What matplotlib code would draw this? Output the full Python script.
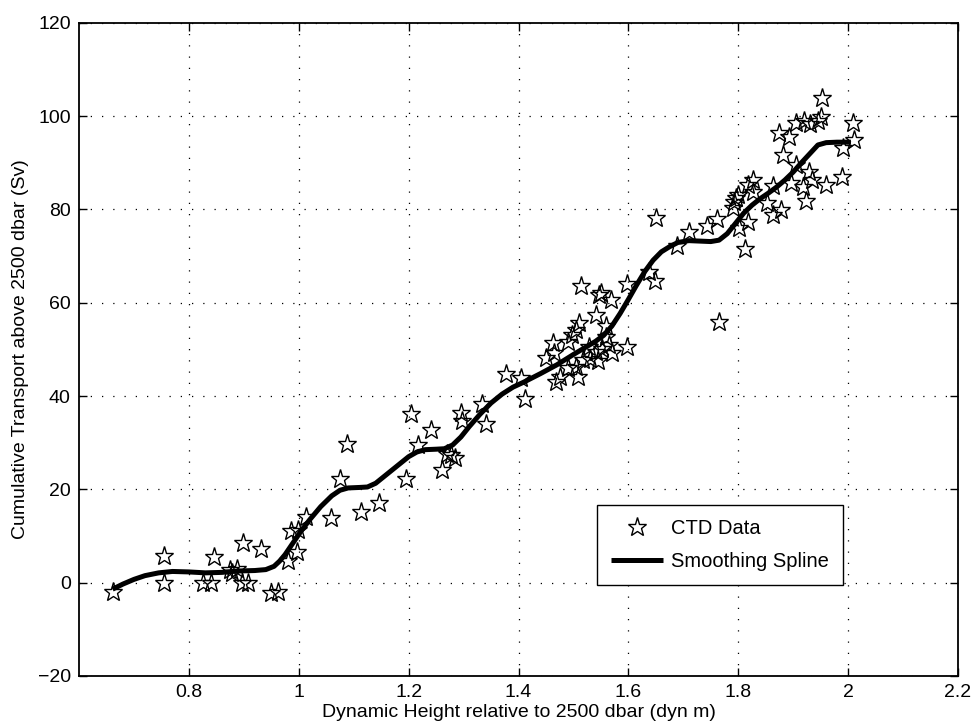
import matplotlib
matplotlib.use("Agg")
import matplotlib.pyplot as plt

plt.rcParams['font.family'] = ['Liberation Sans', 'DejaVu Sans']

# CTD data (dynamic height, cumulative transport)
ctd_x = [0.661, 0.754, 0.754, 0.825, 0.841, 0.846, 0.875, 0.887, 0.878, 0.898,
         0.896, 0.908, 0.932, 0.950, 0.962, 0.981, 0.996, 0.985, 0.998, 1.014,
         1.059, 1.075, 1.088, 1.114, 1.146, 1.196, 1.204, 1.217, 1.240, 1.261,
         1.269, 1.278, 1.284, 1.296, 1.298, 1.334, 1.340, 1.378, 1.405, 1.411,
         1.462, 1.490, 1.497, 1.450, 1.465, 1.505, 1.511, 1.514, 1.529, 1.541,
         1.552, 1.565, 1.571, 1.517, 1.530, 1.544, 1.490, 1.505, 1.475, 1.469,
         1.508, 1.541, 1.547, 1.568, 1.559, 1.559, 1.598, 1.550, 1.597, 1.637,
         1.649, 1.650, 1.688, 1.711, 1.744, 1.762, 1.765, 1.790, 1.793, 1.796,
         1.799, 1.802, 1.813, 1.817, 1.817, 1.826, 1.826, 1.853, 1.863, 1.863,
         1.875, 1.878, 1.881, 1.893, 1.896, 1.905, 1.917, 1.923, 1.929, 1.935,
         1.959, 1.988, 1.990, 2.008, 2.011, 1.953, 1.950, 1.945, 1.920, 1.930,
         1.905]
ctd_y = [-2.1, 5.7, 0.0, 0.0, 0.0, 5.4, 2.7, 2.9, 2.0, 8.6,
         -0.1, -0.1, 7.2, -2.3, -1.9, 4.7, 6.6, 11.0, 11.3, 14.1,
         13.8, 22.2, 29.7, 15.2, 17.1, 22.2, 36.1, 29.5, 32.7, 24.1,
         27.6, 27.4, 26.7, 36.3, 34.6, 38.3, 33.9, 44.7, 43.8, 39.3,
         51.3, 51.6, 53.0, 48.1, 49.2, 54.1, 55.6, 63.6, 50.6, 49.5,
         50.0, 51.0, 49.2, 47.7, 48.0, 47.4, 45.9, 46.3, 44.1, 43.1,
         44.1, 57.4, 61.6, 60.6, 54.9, 52.7, 50.5, 62.0, 64.0, 66.6,
         64.7, 78.2, 72.1, 75.2, 76.4, 77.9, 55.8, 80.2, 81.6, 82.4,
         83.1, 75.9, 71.4, 77.2, 85.2, 86.3, 83.8, 81.3, 78.7, 85.0,
         96.3, 79.9, 91.6, 95.6, 85.6, 89.5, 84.9, 81.7, 88.0, 86.3,
         85.3, 86.9, 93.2, 98.6, 94.9, 103.8, 99.9, 99.0, 99.0, 98.2,
         98.5]

# Smoothing spline
spl_x = [0.661, 0.680, 0.700, 0.720, 0.745, 0.770, 0.800, 0.830, 0.860, 0.890,
         0.920, 0.940, 0.955, 0.965, 0.975, 0.990, 1.005, 1.020, 1.040, 1.060,
         1.075, 1.090, 1.110, 1.125, 1.140, 1.160, 1.180, 1.200, 1.215, 1.230,
         1.250, 1.265, 1.280, 1.295, 1.310, 1.330, 1.350, 1.370, 1.390, 1.410,
         1.440, 1.470, 1.500, 1.520, 1.540, 1.555, 1.570, 1.585, 1.600, 1.615,
         1.630, 1.645, 1.660, 1.675, 1.690, 1.710, 1.730, 1.750, 1.765, 1.780,
         1.795, 1.810, 1.825, 1.840, 1.855, 1.870, 1.885, 1.900, 1.915, 1.930,
         1.945, 1.960, 1.980, 2.005]
spl_y = [-1.4, -0.3, 0.7, 1.5, 2.1, 2.4, 2.3, 2.1, 2.2, 2.5,
         2.6, 2.8, 3.5, 4.6, 6.0, 8.6, 11.2, 13.5, 16.3, 18.6,
         19.8, 20.3, 20.4, 20.5, 21.3, 23.2, 25.1, 27.0, 28.0, 28.5,
         28.6, 28.7, 29.5, 31.2, 33.4, 36.1, 38.5, 40.4, 41.9, 43.0,
         44.8, 46.7, 48.9, 50.3, 51.7, 53.0, 55.0, 57.7, 60.7, 63.8,
         66.7, 69.1, 70.9, 72.0, 72.9, 73.3, 73.2, 73.1, 73.4, 74.8,
         77.0, 79.2, 80.9, 82.3, 83.5, 84.8, 86.3, 88.0, 90.0, 91.9,
         93.8, 94.3, 94.4, 94.4]

x_ticks = [0.8, 1.0, 1.2, 1.4, 1.6, 1.8, 2.0, 2.2]
x_ticklabels = ['0.8', '1', '1.2', '1.4', '1.6', '1.8', '2', '2.2']
y_ticks = [-20, 0, 20, 40, 60, 80, 100, 120]

fig = plt.figure(figsize=(9.72, 7.26), dpi=100)
ax = fig.add_axes([0.0813, 0.0689, 0.9043, 0.8998])

ax.plot(ctd_x, ctd_y, linestyle='none', marker='*', markersize=14,
        markerfacecolor='none', markeredgecolor='black', markeredgewidth=1.0,
        label='CTD Data', zorder=3)
ax.plot(spl_x, spl_y, color='black', linewidth=3.6, label='Smoothing Spline',
        zorder=4, solid_capstyle='butt', solid_joinstyle='round')

ax.set_xlim(0.6, 2.2)
ax.set_ylim(-20, 120)
ax.set_xticks(x_ticks)
ax.set_xticklabels(x_ticklabels)
ax.set_yticks(y_ticks)
ax.tick_params(direction='in', length=6, width=1.0, top=True, right=True,
               labelsize=14, pad=6)
for s in ax.spines.values():
    s.set_linewidth(1.3)
ax.grid(True, color='black', linestyle=(0, (1, 8)), linewidth=0.9)
ax.set_axisbelow(True)

ax.set_xlabel('Dynamic Height relative to 2500 dbar (dyn m)', fontsize=14, labelpad=2)
ax.set_ylabel('Cumulative Transport above 2500 dbar (Sv)', fontsize=14, labelpad=6)

leg = ax.legend(loc='upper left', bbox_to_anchor=(0.589, 0.2617),
                fontsize=14.5, frameon=True, fancybox=False, edgecolor='black',
                framealpha=1, handlelength=2.6, handletextpad=0.4,
                borderpad=0.7, labelspacing=0.7, borderaxespad=0)
leg.get_frame().set_linewidth(1.0)

fig.savefig('out.png', dpi=100)
